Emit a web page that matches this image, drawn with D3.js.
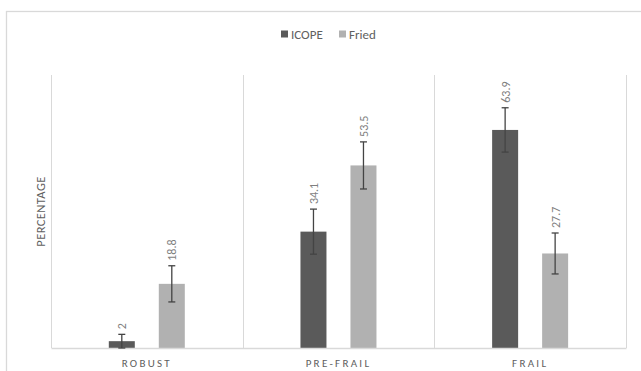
<!DOCTYPE html>
<html>
<head>
<meta charset="utf-8">
<script src="https://cdn.jsdelivr.net/npm/d3@7"></script>
<style>
html,body{margin:0;padding:0;background:#fff;}
svg{display:block;font-family:Carlito,"Open Sans","Noto Sans",sans-serif;}
</style>
</head>
<body>
<svg id="chart" width="641" height="371"></svg>
<script>
const categories = ["ROBUST", "PRE-FRAIL", "FRAIL"];
const seriesNames = ["ICOPE", "Fried"];
const icopeValues = [2, 34.1, 63.9];
const friedValues = [18.8, 53.5, 27.7];
const icopeErrors = [2, 6.6, 6.5];
const friedErrors = [5.3, 6.9, 6.0];
const yAxisTitle = "PERCENTAGE";

const colors = {ICOPE: "#5a5a5a", Fried: "#b1b1b1"};
const gridColor = "#d9d9d9";

const svg = d3.select("#chart");
const m = {left: 51, right: 626, top: 75, bottom: 348};

// outer chart border
svg.append("rect").attr("x", 6.5).attr("y", 11.5).attr("width", 660).attr("height", 400)
  .attr("fill", "none").attr("stroke", gridColor).attr("stroke-width", 1.3);

const x0 = d3.scaleBand().domain(categories).range([m.left, m.right]).paddingInner(0).paddingOuter(0);
const bw = x0.bandwidth();
const barW = 26;
const x1 = d3.scaleOrdinal().domain(seriesNames).range([57.8, 57.8 + 50]);
const y = d3.scaleLinear().domain([0, 80]).range([m.bottom, m.top]);

// category separators
const seps = [m.left, ...categories.map(c => x0(c) + bw)];
svg.append("g").selectAll("line").data(seps).join("line")
  .attr("x1", d => Math.round(d) + 0.5).attr("x2", d => Math.round(d) + 0.5)
  .attr("y1", m.top).attr("y2", m.bottom)
  .attr("stroke", gridColor).attr("stroke-width", 1);

const data = [];
categories.forEach((c, i) => {
  data.push({cat: c, s: "ICOPE", v: icopeValues[i], e: icopeErrors[i]});
  data.push({cat: c, s: "Fried", v: friedValues[i], e: friedErrors[i]});
});

const g = svg.append("g");
g.selectAll("rect.bar").data(data).join("rect").attr("class", "bar")
  .attr("x", d => x0(d.cat) + x1(d.s))
  .attr("width", barW)
  .attr("y", d => y(d.v))
  .attr("height", d => y(0) - y(d.v))
  .attr("fill", d => colors[d.s]);

// baseline axis
const xAxis = d3.axisBottom(x0).tickSize(0).tickPadding(10);
const ax = svg.append("g").attr("transform", `translate(0,${m.bottom})`).call(xAxis);
ax.select(".domain").attr("stroke", gridColor).attr("stroke-width", 1.6);
ax.selectAll("text").attr("font-size", 11).attr("fill", "#606060")
  .attr("letter-spacing", "2.3px").attr("font-family", "Carlito,'Open Sans',sans-serif")
  .attr("dy", "0.85em");

// error bars
const eg = svg.append("g").attr("stroke", "#444").attr("stroke-width", 1.3);
data.forEach(d => {
  const cx = x0(d.cat) + x1(d.s) + barW / 2;
  eg.append("line").attr("x1", cx).attr("x2", cx).attr("y1", y(d.v + d.e)).attr("y2", y(d.v - d.e));
  eg.append("line").attr("x1", cx - 3.5).attr("x2", cx + 3.5).attr("y1", y(d.v + d.e)).attr("y2", y(d.v + d.e));
  eg.append("line").attr("x1", cx - 3.5).attr("x2", cx + 3.5).attr("y1", y(d.v - d.e)).attr("y2", y(d.v - d.e));
});

// value labels
svg.append("g").selectAll("text").data(data).join("text")
  .attr("transform", d => {
    const cx = x0(d.cat) + x1(d.s) + barW / 2;
    return `translate(${cx + 4.5},${y(d.v + d.e) - 5}) rotate(-90)`;
  })
  .attr("text-anchor", "start")
  .attr("font-size", 12)
  .attr("fill", "#7f7f7f")
  .text(d => d.v);

// y axis title
svg.append("text")
  .attr("transform", `translate(45,${(m.top + m.bottom) / 2}) rotate(-90)`)
  .attr("text-anchor", "middle")
  .attr("font-size", 12.5)
  .attr("fill", "#606060")
  .attr("letter-spacing", "0.4px")
  .text(yAxisTitle);

// legend
const lg = svg.append("g").attr("transform", "translate(281,34)");
const legendItems = [{s: "ICOPE", x: 0}, {s: "Fried", x: 58}];
legendItems.forEach(it => {
  lg.append("rect").attr("x", it.x).attr("y", -3.5).attr("width", 7).attr("height", 7).attr("fill", colors[it.s]);
  lg.append("text").attr("x", it.x + 10).attr("y", 0).attr("dy", "0.35em")
    .attr("font-size", 13).attr("fill", "#606060").text(it.s);
});
</script>
</body>
</html>
